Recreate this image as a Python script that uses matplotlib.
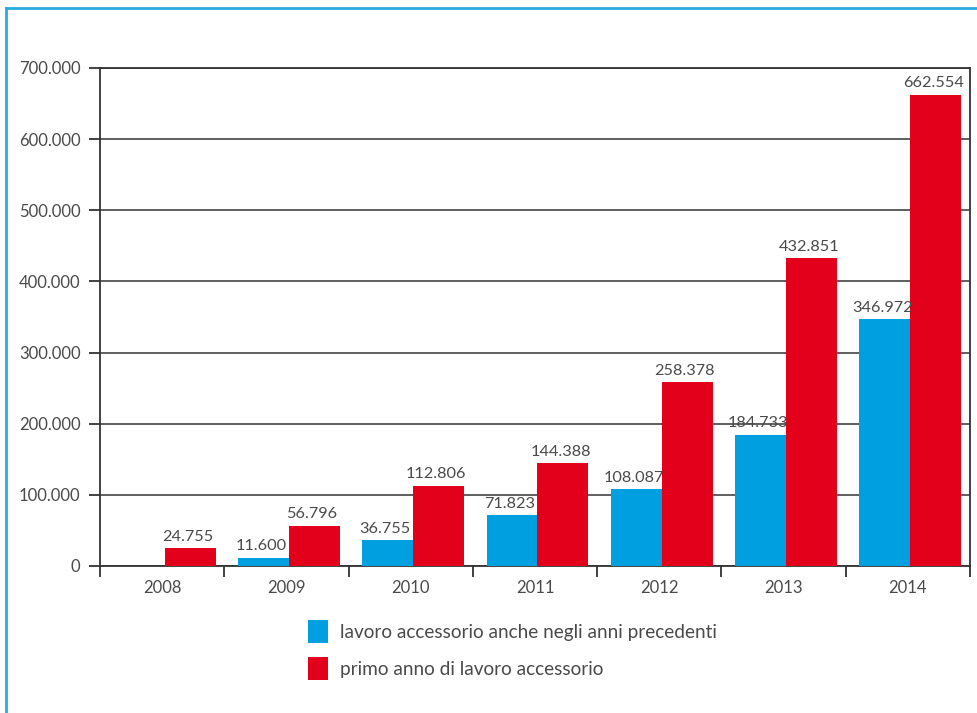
import numpy as np
import matplotlib.pyplot as plt
from matplotlib.lines import Line2D
from matplotlib.ticker import FuncFormatter

years = ['2008', '2009', '2010', '2011', '2012', '2013', '2014']
precedenti = [0, 11600, 36755, 71823, 108087, 184733, 346972]
primo_anno = [24755, 56796, 112806, 144388, 258378, 432851, 662554]
labels = ['lavoro accessorio anche negli anni precedenti',
          'primo anno di lavoro accessorio']

blue = '#009fe0'
red = '#e2001a'
txt = '#4a4a4a'
plt.rcParams['font.family'] = ['Lato', 'DejaVu Sans']


def fmt(v, pos=None):
    return f'{int(v):,}'.replace(',', '.')


fig = plt.figure(figsize=(9.78, 7.13), dpi=100)
ax = fig.add_axes([100 / 978, 147 / 713, 870 / 978, 498 / 713])

x = np.arange(len(years))
w = 0.41
b1 = ax.bar(x - w / 2 + 0.02, precedenti, w, color=blue, label=labels[0], zorder=3)
b2 = ax.bar(x + w / 2 + 0.02, primo_anno, w, color=red, label=labels[1], zorder=3)

for bars, vals in ((b1, precedenti), (b2, primo_anno)):
    for r, v in zip(bars, vals):
        if v > 0:
            ax.text(r.get_x() + r.get_width() / 2 - 0.02, v + 6000, fmt(v),
                    ha='center', va='bottom', fontsize=11.7, color=txt)

ax.set_xlim(-0.5, len(years) - 0.5)
ax.set_ylim(0, 700000)
ax.set_yticks(np.arange(0, 700001, 100000))
ax.yaxis.set_major_formatter(FuncFormatter(fmt))
ax.grid(axis='y', color='#333333', linewidth=1.1, zorder=1)

ax.set_xticks(np.arange(-0.5, len(years)), [''] * (len(years) + 1))
ax.set_xticks(x, years, minor=True)
ax.tick_params(axis='x', which='major', length=8, width=1.3, color='#333333')
ax.tick_params(axis='x', which='minor', length=0, pad=10, labelsize=12, labelcolor=txt)
ax.tick_params(axis='y', length=8, width=1.3, color='#333333', labelsize=12,
               labelcolor=txt, pad=6)

for s in ax.spines.values():
    s.set_color('#333333')
    s.set_linewidth(1.3)

fig.legend(handles=[b1, b2], loc='upper left', bbox_to_anchor=(291 / 978, 1 - 603 / 713),
           frameon=False, fontsize=13.7, handlelength=1.05, handleheight=1.5,
           labelspacing=0.7, handletextpad=0.6, labelcolor=txt)

# cornice azzurra
fig.add_artist(Line2D([6 / 978, 6 / 978], [0, 1 - 8 / 713], color='#29aae2', lw=2,
                      transform=fig.transFigure))
fig.add_artist(Line2D([6 / 978, 1], [1 - 8 / 713, 1 - 8 / 713], color='#29aae2', lw=2,
                      transform=fig.transFigure))

fig.savefig('out.png', dpi=100)
